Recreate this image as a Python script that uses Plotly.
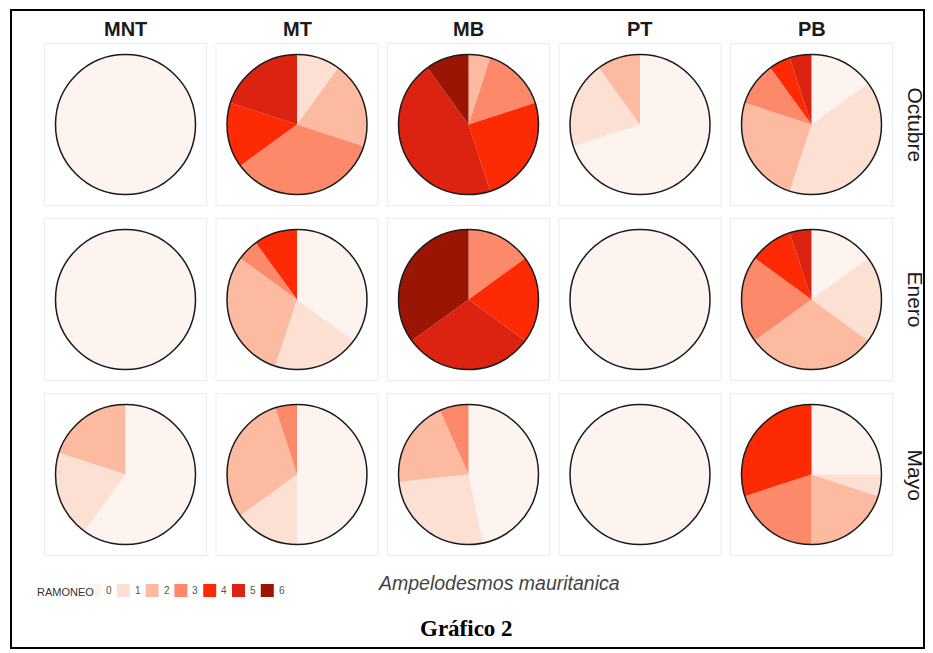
import plotly.graph_objects as go

# ---------------- data ----------------
categories = ["0", "1", "2", "3", "4", "5", "6"]
columns = ["MNT", "MT", "MB", "PT", "PB"]
rows = ["Octubre", "Enero", "Mayo"]

# counts per RAMONEO class (0..6) for each column, one list per month
octubre = [
    [20, 0, 0, 0, 0, 0, 0],   # MNT
    [0, 2, 4, 7, 3, 4, 0],    # MT
    [0, 0, 1, 3, 5, 9, 2],    # MB
    [14, 4, 2, 0, 0, 0, 0],   # PT
    [3, 8, 5, 2, 1, 1, 0],    # PB
]
enero = [
    [20, 0, 0, 0, 0, 0, 0],
    [7, 4, 6, 1, 2, 0, 0],
    [0, 0, 0, 3, 4, 6, 7],
    [20, 0, 0, 0, 0, 0, 0],
    [3, 4, 6, 4, 2, 1, 0],
]
mayo = [
    [12, 4, 4, 0, 0, 0, 0],
    [10, 3, 6, 1, 0, 0, 0],
    [7, 4, 3, 1, 0, 0, 0],
    [20, 0, 0, 0, 0, 0, 0],
    [5, 1, 4, 4, 6, 0, 0],
]
month_data = [octubre, enero, mayo]

colors = ["#fdf4f0", "#fde0d4", "#fcbba1", "#fc8a6a", "#fd2a04", "#dc2311", "#9a1504"]

legend_title = "RAMONEO"
species = "Ampelodesmos mauritanica"
caption = "Gráfico 2"

# ---------------- layout geometry (pixels) ----------------
W, H = 933, 653
col_cx = [125.5 + 171.5 * i for i in range(5)]
row_cy = [124.5 + 175 * j for j in range(3)]
R = 70
half_panel = 81


def px(x):
    return x / W


def py(y):
    return 1 - y / H


fig = go.Figure()
shapes = []
annotations = []

for j, month in enumerate(rows):
    for i, col in enumerate(columns):
        cx, cy = col_cx[i], row_cy[j]
        # panel box
        shapes.append(dict(type="rect", xref="paper", yref="paper",
                           x0=px(cx - half_panel), x1=px(cx + half_panel),
                           y0=py(cy + half_panel), y1=py(cy - half_panel),
                           line=dict(color="#ececec", width=1), fillcolor="white",
                           layer="below"))
        dom = dict(x=[px(cx - R), px(cx + R)], y=[py(cy + R), py(cy - R)])
        fig.add_trace(go.Pie(
            labels=categories, values=month_data[j][i],
            marker=dict(colors=colors, line=dict(width=0)),
            sort=False, direction="clockwise", rotation=0,
            textinfo="none", hoverinfo="label+value", showlegend=False,
            domain=dom))
        # outer circle outline
        fig.add_trace(go.Pie(
            labels=["outline"], values=[1],
            marker=dict(colors=["rgba(0,0,0,0)"], line=dict(color="#1a1a1a", width=1.5)),
            sort=False, textinfo="none", hoverinfo="skip", showlegend=False,
            domain=dom))

# column headers
for i, col in enumerate(columns):
    annotations.append(dict(text="<b>" + col + "</b>", x=px(col_cx[i]), y=py(28.5), xref="paper", yref="paper",
                            showarrow=False, xanchor="center", yanchor="middle",
                            font=dict(family="Liberation Sans, Arial", size=20, color="#1a1a1a")))
# row labels
for j, month in enumerate(rows):
    annotations.append(dict(text=month, x=px(915), y=py(row_cy[j]), xref="paper", yref="paper",
                            showarrow=False, xanchor="center", yanchor="middle", textangle=90,
                            font=dict(family="Liberation Sans, Arial", size=21, color="#1a1a1a")))

# legend built from categories / colors
annotations.append(dict(text=legend_title, x=px(35), y=py(592), xref="paper", yref="paper",
                        showarrow=False, xanchor="left", yanchor="middle",
                        font=dict(family="Liberation Sans Narrow, Arial Narrow, Liberation Sans", size=11,
                                  color="#333333")))
for k, cat in enumerate(categories):
    x0 = 88 + 28.8 * k
    shapes.append(dict(type="rect", xref="paper", yref="paper",
                       x0=px(x0), x1=px(x0 + 13), y0=py(597), y1=py(584),
                       line=dict(width=0), fillcolor=colors[k]))
    annotations.append(dict(text=cat, x=px(x0 + 16), y=py(590), xref="paper", yref="paper",
                            showarrow=False, xanchor="left", yanchor="middle",
                            font=dict(family="Liberation Sans Narrow, Arial Narrow, Liberation Sans", size=10,
                                      color="#555555")))

annotations.append(dict(text="<i>" + species + "</i>", x=px(499), y=py(583), xref="paper", yref="paper",
                        showarrow=False, xanchor="center", yanchor="middle",
                        font=dict(family="Liberation Sans, Arial", size=19.5, color="#444444")))
annotations.append(dict(text="<b>" + caption + "</b>", x=px(466), y=py(628), xref="paper", yref="paper",
                        showarrow=False, xanchor="center", yanchor="middle",
                        font=dict(family="Liberation Serif, Times New Roman", size=23, color="#000000")))

# outer frame
shapes.append(dict(type="rect", xref="paper", yref="paper",
                   x0=px(11), x1=px(924), y0=py(648), y1=py(10),
                   line=dict(color="black", width=2), layer="above"))

fig.update_layout(width=W, height=H, margin=dict(l=0, r=0, t=0, b=0),
                  paper_bgcolor="white", plot_bgcolor="white",
                  shapes=shapes, annotations=annotations, showlegend=False)

fig.write_html("out.html", config={"displayModeBar": False},
               post_script="document.body.style.margin='0px';document.body.style.overflow='hidden';")
